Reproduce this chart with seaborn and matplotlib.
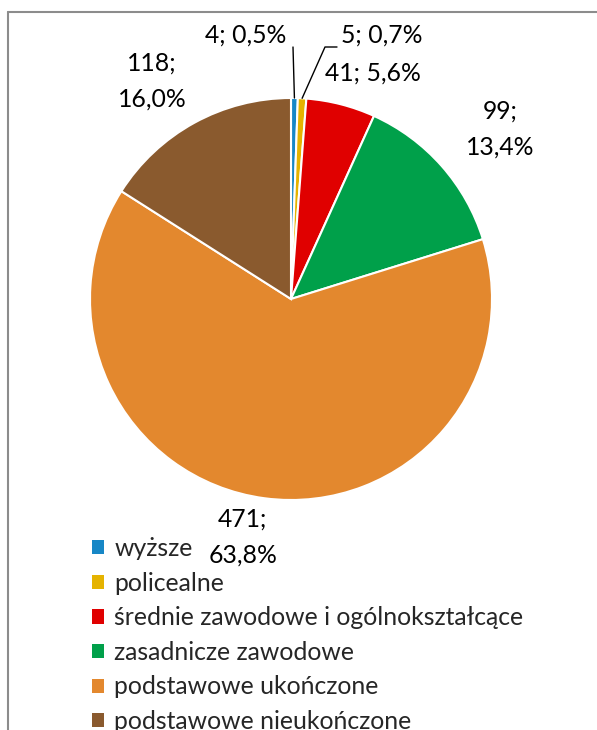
import numpy as np
import matplotlib
matplotlib.use("Agg")
import matplotlib.pyplot as plt
from matplotlib.lines import Line2D
from matplotlib.patches import Patch
import seaborn as sns

# data
categories = ["wyższe", "policealne", "średnie zawodowe i ogólnokształcące",
              "zasadnicze zawodowe", "podstawowe ukończone", "podstawowe nieukończone"]
counts = [4, 5, 41, 99, 471, 118]
percents = ["0,5%", "0,7%", "5,6%", "13,4%", "63,8%", "16,0%"]
colors = ["#1787C6", "#E5B300", "#E00000", "#00A04A", "#E3882E", "#8A5A2E"]

sns.set_theme(style="white")
plt.rcParams["font.family"] = ["Lato", "DejaVu Sans"]

W, H = 597, 730
fig = plt.figure(figsize=(W / 100, H / 100), dpi=100)
fig.patch.set_facecolor("white")

# pie axes: centre (291, 299) px, radius 201 px
cx, cy, r = 291, 299, 201
ax = fig.add_axes([(cx - r) / W, (H - cy - r) / H, 2 * r / W, 2 * r / H])
wedges, _ = ax.pie(counts, colors=colors, startangle=90, counterclock=False,
                   wedgeprops=dict(edgecolor="white", linewidth=1.5))
ax.set_xlim(-1, 1)
ax.set_ylim(-1, 1)
ax.set_aspect("equal")
ax.axis("off")

def px(x, y):
    return (x - cx) / r, (cy - y) / r

fs = 17.8
# label layout (px positions of label centres / anchors)
label_pos = [(286, 35, "right"), (341, 35, "left"), (373, 73, "center"),
             (500, 129, "center"), (243, 537, "center"), (152, 81, "center")]
for i, (lx, ly, ha) in enumerate(label_pos):
    sep = "; " if i < 3 else ";\n"
    text = f"{counts[i]}{sep}{percents[i]}"
    x, y = px(lx, ly)
    ax.text(x, y, text, ha=ha, va="center", fontsize=fs, color="black",
            linespacing=1.72, clip_on=False)

# leader lines for the two thin slices
def rim_point(w):
    th = np.deg2rad((w.theta1 + w.theta2) / 2)
    return np.cos(th), np.sin(th)

bx, by = rim_point(wedges[0])
x0, y0 = px(293, 47)
ax.plot([x0, bx], [y0, by], color="black", lw=1, clip_on=False)
yx, yy = rim_point(wedges[1])
x1, y1 = px(337, 47)
x2, y2 = px(325, 47)
ax.plot([x1, x2, yx], [y1, y2, yy], color="black", lw=1, clip_on=False)

# legend
handles = [Patch(facecolor=c, edgecolor="none") for c in colors]
fig.legend(handles, categories, loc="upper left",
           bbox_to_anchor=(92 / W, 1 - 537 / H), frameon=False,
           fontsize=fs, handlelength=0.5, handleheight=0.5,
           handletextpad=0.4, labelspacing=0.47, borderpad=0,
           borderaxespad=0)

# chart area border (left and top only visible)
border = "#8C8C8C"
fig.add_artist(Line2D([7.5 / W, 7.5 / W], [0, 1 - 12 / H], color=border, lw=1.5,
                      transform=fig.transFigure))
fig.add_artist(Line2D([7.5 / W, 1], [1 - 12 / H, 1 - 12 / H], color=border, lw=1.5,
                      transform=fig.transFigure))

fig.savefig("out.png", dpi=100)
